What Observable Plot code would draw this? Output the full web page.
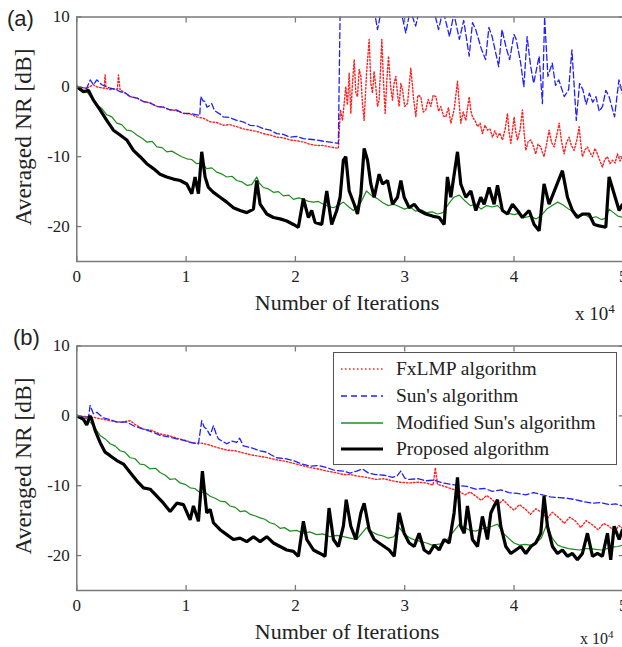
<!DOCTYPE html>
<html><head><meta charset="utf-8">
<script src="https://cdn.jsdelivr.net/npm/d3@7"></script>
<script src="https://cdn.jsdelivr.net/npm/@observablehq/plot@0.6"></script>
<style>
html,body{margin:0;padding:0;background:#fff;}
body{width:622px;height:647px;overflow:hidden;position:relative;font-family:"Liberation Serif","Times New Roman",serif;color:#222;}
.panel{position:absolute;left:0;width:640px;}
.panel svg{max-width:none !important;display:block;}
.t{position:absolute;white-space:nowrap;line-height:1;}
.tag{font-family:"Liberation Sans",Arial,sans-serif;font-size:22px;}
.ylab{font-size:23.5px;transform:translate(-50%,-50%) rotate(-90deg);}
.xlab{font-size:22px;transform:translate(-50%,-50%);}
.legend{position:absolute;left:333px;top:352px;width:282px;height:111px;border:1.5px solid #555;background:#fff;}
.row{position:absolute;left:0;height:26px;}
.row svg{position:absolute;left:6px;top:8px;}
.row span{position:absolute;left:62px;top:2px;font-size:19.5px;white-space:nowrap;}
</style></head>
<body>
<div id="pa" class="panel" style="top:0px"></div>
<div id="pb" class="panel" style="top:325px"></div>
<div class="t tag" style="left:7px;top:8px">(a)</div>
<div class="t tag" style="left:13px;top:327px">(b)</div>
<div class="t ylab" style="left:24px;top:137px">Averaged NR [dB]</div>
<div class="t ylab" style="left:24px;top:466px">Averaged NR [dB]</div>
<div class="t xlab" style="left:347px;top:303px">Number of Iterations</div>
<div class="t xlab" style="left:347px;top:632px">Number of Iterations</div>
<div class="t" style="left:575px;top:302px;font-size:19px">x 10<sup style="font-size:13px;vertical-align:7px">4</sup></div>
<div class="t" style="left:580px;top:629px;font-size:16px">x 10<sup style="font-size:11px;vertical-align:6px">4</sup></div>
<div class="legend" id="legend"></div>
<script>
// ---- axis ticks ----
const xTicks = [0, 1, 2, 3, 4, 5];
const yTicks = [-20, -10, 0, 10];
const seriesNames = ["FxLMP algorithm", "Sun's algorithm", "Modified Sun's algorithm", "Proposed algorithm"];

// ---- panel (a) data: [iterations x 1e4, averaged NR dB] ----
const a_fxlmp = [[0,0],[0.091,-0.2],[0.152,0.3],[0.183,0],[0.25,-0.2],[0.259,1.7],[0.268,-0.2],[0.305,-0.4],[0.372,-0.3],[0.381,1.7],[0.396,-0.4],[0.488,-1.4],[0.55,-1.6],[0.61,-2.1],[0.67,-2.3],[0.732,-2.8],[0.79,-2.9],[0.854,-3.3],[0.91,-3.4],[0.976,-3.8],[1.04,-3.9],[1.098,-4.3],[1.16,-4.5],[1.22,-5.0],[1.28,-5.1],[1.341,-5.5],[1.40,-5.4],[1.463,-5.7],[1.52,-6.0],[1.585,-6.2],[1.65,-6.4],[1.707,-6.7],[1.77,-6.9],[1.829,-7.2],[1.89,-7.3],[1.951,-7.6],[2.01,-7.7],[2.073,-7.9],[2.13,-8.2],[2.195,-8.4],[2.26,-8.4],[2.317,-8.6],[2.393,-8.8],[2.412,-3.3],[2.431,-4.8],[2.446,-2.4],[2.461,0],[2.476,-2.6],[2.492,2],[2.507,-3.8],[2.522,0.5],[2.538,3.9],[2.553,-0.8],[2.568,-1.4],[2.584,2.5],[2.599,1.5],[2.614,-2.5],[2.629,-4.8],[2.651,2],[2.675,6.8],[2.69,0.5],[2.705,-0.9],[2.72,2.2],[2.736,0],[2.751,-2.8],[2.766,-1.9],[2.791,6.8],[2.806,0.8],[2.821,-3.8],[2.837,1],[2.852,4.4],[2.87,0.2],[2.888,-1.9],[2.903,0.5],[2.919,1.5],[2.934,-1],[2.949,-2.8],[2.965,0.5],[2.98,-0.4],[3.0,-2.8],[3.026,-2.4],[3.04,0],[3.056,2.7],[3.08,-1.5],[3.102,-4.3],[3.12,-1.2],[3.147,-1.4],[3.17,-3.6],[3.193,-3.3],[3.215,-1.8],[3.239,-2.8],[3.26,-1.2],[3.285,-1.4],[3.31,-3.5],[3.33,-2.8],[3.355,-4.2],[3.376,-4.3],[3.40,-3.0],[3.422,-5.2],[3.452,-3.3],[3.483,0.8],[3.498,-2.2],[3.513,-5.2],[3.535,-3.6],[3.559,-4.8],[3.575,-3.0],[3.59,-1.4],[3.605,-3.4],[3.62,-4.3],[3.645,-4.9],[3.666,-5.7],[3.69,-5.2],[3.711,-6.7],[3.735,-5.5],[3.757,-6.2],[3.78,-6.0],[3.803,-7.2],[3.825,-6.3],[3.849,-7.2],[3.87,-6.6],[3.894,-7.6],[3.92,-6.0],[3.94,-3.8],[3.955,-6.5],[3.971,-8.1],[3.986,-6.2],[4.001,-4.3],[4.016,-6.4],[4.032,-7.6],[4.055,-6.2],[4.077,-3.3],[4.093,-6.6],[4.108,-9.1],[4.13,-7.8],[4.154,-7.6],[4.175,-8.4],[4.199,-9.6],[4.22,-8.2],[4.245,-8.6],[4.26,-9.4],[4.275,-10],[4.30,-8.0],[4.321,-6.2],[4.345,-8.0],[4.367,-8.6],[4.39,-7.0],[4.413,-5.2],[4.435,-7.8],[4.458,-9.6],[4.48,-8.0],[4.504,-7.2],[4.525,-8.4],[4.55,-9.1],[4.575,-7.6],[4.596,-5.7],[4.61,-8.0],[4.626,-10],[4.65,-9.0],[4.672,-8.6],[4.695,-9.4],[4.718,-10],[4.74,-8.8],[4.763,-9.6],[4.786,-10.6],[4.809,-11.5],[4.83,-10.4],[4.855,-10],[4.878,-11.0],[4.901,-10.5],[4.925,-10.9],[4.946,-9.6],[4.97,-10.6],[4.992,-10],[5.05,-10.3]];
const a_sun = [[0,0],[0.091,-0.2],[0.122,1.0],[0.152,0.3],[0.183,1.0],[0.229,0.3],[0.305,-0.2],[0.35,-0.3],[0.396,-0.7],[0.44,-0.8],[0.488,-1.4],[0.55,-1.6],[0.61,-2.1],[0.67,-2.3],[0.732,-2.8],[0.79,-2.9],[0.854,-3.3],[0.91,-3.3],[0.976,-3.8],[1.04,-3.8],[1.098,-4.0],[1.125,-4.1],[1.134,-1.4],[1.155,-2.0],[1.174,-2.1],[1.19,-2.9],[1.204,-2.8],[1.235,-2.4],[1.26,-3.4],[1.28,-3.6],[1.31,-3.9],[1.341,-4.3],[1.40,-4.4],[1.463,-4.8],[1.52,-5.0],[1.585,-5.5],[1.65,-5.6],[1.707,-6.0],[1.77,-6.2],[1.829,-6.7],[1.89,-6.8],[1.951,-7.2],[2.01,-7.1],[2.073,-7.4],[2.13,-7.5],[2.195,-7.6],[2.26,-7.8],[2.317,-7.9],[2.393,-8.1],[2.412,14],[2.45,13],[2.5,11],[2.55,12.5],[2.6,12],[2.65,10.5],[2.7,13],[2.751,8.2],[2.8,12],[2.85,12.5],[2.9,11],[2.95,12],[3.01,7.7],[3.05,11],[3.10,8.7],[3.15,12],[3.2,10.5],[3.25,12],[3.31,8.2],[3.35,11],[3.41,7.2],[3.45,10.5],[3.50,6.8],[3.54,9.5],[3.59,4.4],[3.62,9.2],[3.65,8.2],[3.70,5.5],[3.74,3.9],[3.77,8.5],[3.80,7.2],[3.86,2.9],[3.89,8.2],[3.93,5.5],[3.96,3.9],[4.0,7.5],[4.02,6.8],[4.06,3.5],[4.09,0],[4.12,7.2],[4.15,3.2],[4.18,0.5],[4.23,4.4],[4.26,-2.4],[4.28,10],[4.31,1.5],[4.35,3.4],[4.38,0.2],[4.41,1],[4.46,-1.4],[4.50,-0.4],[4.53,5.3],[4.57,-4.8],[4.60,0.5],[4.63,-0.4],[4.66,-2.5],[4.69,-0.9],[4.72,-2.2],[4.75,-1.4],[4.78,-3.5],[4.81,-2.8],[4.84,-0.5],[4.87,-1.4],[4.92,-4.3],[4.96,1],[4.99,-0.9],[5.05,-2.0]];
const a_mod = [[0,0],[0.091,-0.7],[0.183,-2.6],[0.23,-3.1],[0.274,-4.0],[0.32,-4.3],[0.366,-5.2],[0.41,-5.4],[0.457,-6.2],[0.50,-6.3],[0.549,-6.9],[0.60,-7.4],[0.64,-7.9],[0.69,-7.8],[0.732,-8.6],[0.78,-8.7],[0.823,-9.3],[0.87,-9.2],[0.915,-9.6],[0.96,-10.0],[1.006,-10.3],[1.05,-10.4],[1.098,-11.0],[1.14,-10.9],[1.189,-11.7],[1.235,-11.6],[1.28,-12.2],[1.33,-12.5],[1.372,-12.9],[1.42,-12.8],[1.463,-13.4],[1.51,-13.6],[1.555,-14.1],[1.60,-14.0],[1.646,-12.9],[1.67,-13.8],[1.707,-14.4],[1.75,-14.6],[1.799,-15.1],[1.845,-15.0],[1.89,-15.6],[1.94,-15.5],[1.982,-16.1],[2.03,-15.9],[2.073,-16.1],[2.12,-16.4],[2.165,-16.5],[2.21,-16.4],[2.256,-16.8],[2.30,-17.1],[2.348,-17.3],[2.40,-16.9],[2.439,-16.5],[2.49,-17.2],[2.53,-17.7],[2.6,-16.5],[2.65,-14.9],[2.7,-15.6],[2.75,-16],[2.8,-16.6],[2.85,-17],[2.9,-16.8],[3.0,-17.5],[3.05,-17.2],[3.1,-17.8],[3.15,-17.6],[3.2,-18],[3.25,-17.9],[3.3,-18.2],[3.35,-18.0],[3.4,-16.8],[3.45,-15.8],[3.5,-15.5],[3.55,-16.3],[3.6,-17],[3.65,-16.8],[3.7,-17.5],[3.75,-17.0],[3.8,-17.2],[3.85,-17.0],[3.9,-17.8],[3.95,-18.1],[4.0,-18.3],[4.05,-18.1],[4.1,-18.7],[4.15,-18.5],[4.2,-18.9],[4.25,-18.4],[4.3,-17.5],[4.35,-17.0],[4.4,-16.5],[4.45,-16.9],[4.5,-17.5],[4.55,-18.0],[4.6,-18.5],[4.65,-18.3],[4.7,-18.8],[4.75,-18.6],[4.8,-19],[4.84,-18.8],[4.87,-17.5],[4.91,-18.0],[4.95,-18.5],[5.0,-18.7],[5.05,-18.6]];
const a_prop = [[0,0],[0.061,-0.7],[0.107,-0.5],[0.152,-1.9],[0.213,-3.3],[0.274,-4.8],[0.335,-6.2],[0.396,-6.9],[0.457,-7.6],[0.518,-9.1],[0.579,-10],[0.64,-11],[0.701,-11.7],[0.762,-12.5],[0.823,-12.9],[0.884,-13.2],[0.945,-13.4],[1.006,-13.9],[1.052,-15.3],[1.082,-12.9],[1.113,-15.3],[1.143,-9.3],[1.174,-12.9],[1.204,-14.4],[1.25,-15.1],[1.311,-15.8],[1.372,-16.5],[1.433,-17.3],[1.494,-17.7],[1.555,-18],[1.616,-17.5],[1.646,-13.4],[1.677,-16.8],[1.738,-18.2],[1.799,-18.7],[1.86,-18.9],[1.921,-19.2],[1.982,-19.7],[2.027,-20.1],[2.073,-16],[2.119,-18.7],[2.149,-17.7],[2.18,-19.4],[2.241,-19.7],[2.287,-14.9],[2.332,-19.7],[2.378,-17.7],[2.409,-15.8],[2.439,-10.5],[2.461,-10],[2.492,-14.9],[2.538,-16.8],[2.568,-18.2],[2.599,-15.3],[2.629,-8.8],[2.66,-10.5],[2.69,-13.9],[2.721,-15.8],[2.766,-12.5],[2.797,-13.9],[2.843,-13.4],[2.888,-16.8],[2.934,-15.8],[2.965,-13.4],[2.995,-15.8],[3.041,-17.3],[3.087,-16.8],[3.132,-17.7],[3.193,-18.2],[3.254,-18.5],[3.315,-18.7],[3.361,-19.7],[3.391,-12.9],[3.422,-15.8],[3.483,-9.3],[3.513,-13.9],[3.559,-15.8],[3.605,-14.9],[3.651,-17.7],[3.696,-15.8],[3.727,-16.8],[3.772,-14.4],[3.818,-16.8],[3.849,-14.1],[3.894,-17.7],[3.94,-18.2],[3.986,-16.8],[4.032,-17.7],[4.077,-18.7],[4.138,-17.7],[4.184,-19.7],[4.23,-20.6],[4.275,-13.9],[4.321,-16.8],[4.382,-14.4],[4.443,-12],[4.489,-15.8],[4.535,-17.7],[4.58,-18.7],[4.626,-18.2],[4.687,-18.2],[4.733,-19.7],[4.779,-19.9],[4.84,-20.1],[4.87,-12.9],[4.916,-15.3],[4.962,-17.7],[4.992,-16.8],[5.05,-17.2]];

// ---- panel (b) data ----
const b_fxlmp = [[0,0],[0.152,-0.2],[0.305,-0.7],[0.40,-0.9],[0.49,-0.7],[0.53,-1.2],[0.61,-1.9],[0.69,-2.1],[0.762,-2.6],[0.84,-2.8],[0.915,-3.2],[0.99,-3.5],[1.067,-3.9],[1.14,-3.9],[1.22,-4.2],[1.30,-4.6],[1.372,-4.9],[1.45,-5.0],[1.524,-5.3],[1.60,-5.6],[1.677,-5.8],[1.75,-6.0],[1.829,-6.3],[1.91,-6.5],[1.982,-6.8],[2.06,-7.1],[2.134,-7.4],[2.21,-7.6],[2.287,-7.9],[2.36,-8.1],[2.439,-8.4],[2.5,-8.4],[2.561,-8.6],[2.65,-8.8],[2.736,-9.1],[2.81,-9.0],[2.888,-9.3],[2.96,-9.5],[3.041,-9.6],[3.12,-9.5],[3.193,-9.6],[3.26,-9.9],[3.28,-7.4],[3.30,-9.8],[3.346,-10],[3.42,-10.4],[3.498,-10.8],[3.55,-11.3],[3.60,-10.9],[3.651,-11.5],[3.70,-12.1],[3.75,-11.4],[3.803,-12],[3.85,-12.8],[3.90,-12.0],[3.955,-12.9],[4.0,-13.5],[4.05,-12.7],[4.108,-13.4],[4.15,-14.1],[4.2,-13.3],[4.26,-13.9],[4.30,-14.8],[4.35,-13.8],[4.413,-14.6],[4.46,-15.4],[4.51,-14.5],[4.565,-15.1],[4.61,-16.0],[4.66,-15.0],[4.718,-15.6],[4.77,-16.3],[4.82,-15.4],[4.87,-15.8],[4.92,-16.6],[4.96,-15.7],[4.992,-16.1],[5.05,-16.4]];
const b_sun = [[0,0],[0.107,-0.2],[0.122,1.5],[0.152,0.3],[0.183,0.5],[0.244,-0.3],[0.30,-0.5],[0.366,-0.9],[0.457,-0.9],[0.53,-1.5],[0.61,-1.9],[0.69,-2.3],[0.762,-2.8],[0.84,-3.0],[0.915,-3.3],[0.98,-3.5],[1.037,-3.8],[1.113,-4.0],[1.143,-0.7],[1.165,-1.6],[1.189,-1.9],[1.22,-2.8],[1.25,-1.4],[1.275,-2.6],[1.296,-3.3],[1.34,-3.7],[1.372,-4.0],[1.42,-3.6],[1.463,-3.8],[1.49,-3.2],[1.524,-4.3],[1.60,-4.6],[1.677,-5.0],[1.738,-5.2],[1.78,-5.6],[1.829,-6.0],[1.90,-6.1],[1.982,-6.4],[2.06,-6.9],[2.134,-7.2],[2.21,-7.1],[2.287,-7.4],[2.36,-7.8],[2.439,-7.9],[2.50,-8.2],[2.561,-7.9],[2.614,-7.6],[2.67,-8.2],[2.736,-8.4],[2.81,-8.5],[2.888,-8.8],[2.93,-8.6],[2.964,-7.9],[3.0,-8.9],[3.041,-9.1],[3.12,-9.0],[3.193,-9.3],[3.27,-9.2],[3.346,-9.6],[3.42,-9.8],[3.498,-10],[3.57,-10.1],[3.651,-10.5],[3.73,-10.4],[3.803,-10.8],[3.88,-10.6],[3.955,-11],[4.03,-11.1],[4.108,-11.3],[4.18,-11.0],[4.26,-11.3],[4.33,-11.6],[4.413,-11.7],[4.49,-11.8],[4.565,-12],[4.64,-12.3],[4.718,-12.5],[4.79,-12.4],[4.87,-12.7],[4.93,-12.6],[4.992,-12.9],[5.05,-13.0]];
const b_mod = [[0,0],[0.091,-0.4],[0.152,-1.4],[0.213,-2.8],[0.26,-3.3],[0.305,-4.0],[0.35,-4.3],[0.396,-5.0],[0.44,-5.2],[0.488,-6.0],[0.53,-6.1],[0.579,-6.9],[0.62,-7.0],[0.671,-7.6],[0.72,-7.5],[0.762,-8.1],[0.81,-8.5],[0.854,-9.1],[0.90,-9.0],[0.945,-9.6],[0.99,-9.8],[1.037,-10.3],[1.08,-10.4],[1.128,-11.0],[1.17,-10.9],[1.22,-11.5],[1.265,-11.8],[1.311,-12.2],[1.36,-12.3],[1.402,-12.9],[1.45,-13.1],[1.494,-13.7],[1.54,-13.6],[1.585,-14.1],[1.63,-14.3],[1.677,-14.6],[1.72,-14.8],[1.768,-15.3],[1.81,-15.5],[1.86,-16.1],[1.90,-16.0],[1.951,-16.5],[2.01,-16.4],[2.073,-16.8],[2.13,-16.6],[2.195,-17],[2.25,-16.9],[2.317,-17.3],[2.38,-17.1],[2.439,-17.3],[2.5,-17.5],[2.561,-17.7],[2.65,-16],[2.7,-16.6],[2.75,-17],[2.8,-17.2],[2.85,-17.5],[2.9,-17.3],[2.95,-16],[3.0,-17.0],[3.05,-17.5],[3.1,-17.8],[3.15,-18],[3.2,-18.2],[3.25,-18.5],[3.3,-18.4],[3.35,-18.3],[3.4,-17.5],[3.45,-16.5],[3.5,-15.5],[3.55,-16],[3.6,-16.4],[3.65,-16.5],[3.7,-16.2],[3.75,-16],[3.8,-15.8],[3.85,-15.5],[3.9,-16.8],[3.95,-17.5],[4.0,-18.2],[4.05,-18.5],[4.1,-18.4],[4.15,-18.5],[4.2,-18.2],[4.25,-17.5],[4.3,-15.5],[4.35,-17.5],[4.4,-18.5],[4.45,-18.8],[4.5,-19],[4.55,-19.1],[4.6,-19.2],[4.65,-19.0],[4.7,-19],[4.75,-19.1],[4.8,-19.2],[4.85,-19.0],[4.9,-18.8],[4.95,-18.7],[5.0,-18.5],[5.05,-18.6]];
const b_prop = [[0,0],[0.061,-0.5],[0.091,-1.3],[0.122,0],[0.137,-0.5],[0.168,-2.1],[0.213,-3.8],[0.259,-5.2],[0.305,-5.7],[0.366,-6.4],[0.427,-6.9],[0.488,-8.1],[0.549,-9.3],[0.61,-10.3],[0.671,-10.5],[0.732,-11.5],[0.793,-12.5],[0.854,-13.7],[0.915,-12.5],[0.976,-12.7],[1.037,-14.9],[1.067,-12.9],[1.113,-15.1],[1.149,-7.9],[1.189,-13.9],[1.22,-13.4],[1.25,-15.3],[1.311,-16.3],[1.372,-17],[1.433,-17.7],[1.494,-17.5],[1.555,-18],[1.616,-17.3],[1.677,-18],[1.738,-17.3],[1.799,-18.2],[1.86,-18.7],[1.921,-19.2],[1.982,-19.4],[2.027,-20.1],[2.073,-15.1],[2.104,-17.7],[2.165,-19.2],[2.226,-19.7],[2.271,-20.1],[2.308,-13.2],[2.348,-17.7],[2.393,-18.7],[2.439,-15.8],[2.465,-12],[2.507,-15.8],[2.553,-17.7],[2.599,-13.9],[2.629,-12.5],[2.675,-16.3],[2.721,-17.7],[2.766,-18.2],[2.812,-18.7],[2.858,-19.2],[2.904,-20.1],[2.949,-13.9],[2.995,-16.8],[3.041,-18.2],[3.087,-18.7],[3.132,-16.8],[3.178,-19.2],[3.224,-19.7],[3.27,-18.5],[3.315,-19.2],[3.361,-17.7],[3.407,-18.2],[3.452,-13.9],[3.483,-8.8],[3.513,-15.8],[3.544,-16.8],[3.574,-12.9],[3.62,-17.7],[3.666,-18.7],[3.711,-14.4],[3.757,-17.7],[3.788,-13.9],[3.818,-12.9],[3.849,-12],[3.879,-15.8],[3.925,-18.7],[3.971,-19.7],[4.016,-19.2],[4.062,-18.7],[4.108,-19.7],[4.154,-18.7],[4.199,-18.2],[4.245,-16.8],[4.275,-11.5],[4.306,-15.8],[4.352,-18.7],[4.398,-19.7],[4.443,-19.2],[4.489,-20.1],[4.535,-19.7],[4.58,-20.6],[4.626,-19.7],[4.672,-16.8],[4.718,-20.1],[4.763,-19.7],[4.809,-20.1],[4.855,-16.8],[4.885,-20.6],[4.916,-15.8],[4.962,-17.7],[4.992,-16.3],[5.05,-17.0]];

// ---- styles per series ----
const styles = [
  {stroke: "#ff2020", strokeWidth: 1.4, strokeDasharray: "1.5,2"},
  {stroke: "#2020ff", strokeWidth: 1.3, strokeDasharray: "6,3"},
  {stroke: "#1e8c1e", strokeWidth: 1.2},
  {stroke: "#000000", strokeWidth: 3.2, strokeLinejoin: "miter"}
];

function rows(arr) { return arr.map(([x, y]) => ({x, y})); }

function panel(series, mTop, mBottom, height) {
  const lines = series.map((s, i) => Plot.line(rows(s), {x: "x", y: "y", clip: true, ...styles[i]}));
  return Plot.plot({
    width: 640, height,
    marginLeft: 76.3, marginRight: 17.2, marginTop: mTop, marginBottom: mBottom,
    x: {domain: [0, 5]},
    y: {domain: [-25, 10]},
    style: {fontFamily: "'Liberation Serif', 'Times New Roman', serif", fontSize: "17px", color: "#222", background: "transparent", overflow: "visible"},
    marks: [
      ...lines,
      Plot.frame({stroke: "#7a7a7a", strokeWidth: 1.5}),
      Plot.axisX(xTicks, {anchor: "bottom", tickSize: 0, tickPadding: 8, label: null, tickFormat: d => String(d)}),
      Plot.axisX(xTicks, {anchor: "bottom", tickSize: -5, text: null, label: null, stroke: "#7a7a7a", strokeWidth: 1.3}),
      Plot.axisX(xTicks, {anchor: "top", tickSize: -5, text: null, label: null, stroke: "#7a7a7a", strokeWidth: 1.3}),
      Plot.axisY(yTicks, {anchor: "left", tickSize: 0, tickPadding: 7, label: null, tickFormat: d => String(d)}),
      Plot.axisY(yTicks, {anchor: "left", tickSize: -5, text: null, label: null, stroke: "#7a7a7a", strokeWidth: 1.3}),
      Plot.axisY(yTicks, {anchor: "right", tickSize: -5, text: null, label: null, stroke: "#7a7a7a", strokeWidth: 1.3})
    ]
  });
}

document.getElementById("pa").append(panel([a_fxlmp, a_sun, a_mod, a_prop], 16.5, 64, 325));
document.getElementById("pb").append(panel([b_fxlmp, b_sun, b_mod, b_prop], 20.5, 57, 322));

// ---- legend ----
const leg = document.getElementById("legend");
const rowTops = [3, 30, 57, 83];
seriesNames.forEach((name, i) => {
  const st = styles[i];
  const r = document.createElement("div");
  r.className = "row";
  r.style.top = rowTops[i] + "px";
  r.innerHTML = `<svg width="44" height="10"><line x1="1" x2="43" y1="5" y2="5" stroke="${st.stroke}" stroke-width="${i === 3 ? 3 : 1.6}" ${st.strokeDasharray ? `stroke-dasharray="${i === 0 ? "1.5,2.5" : "6,4"}"` : ""}/></svg><span>${name}</span>`;
  leg.append(r);
});
</script>
</body></html>
